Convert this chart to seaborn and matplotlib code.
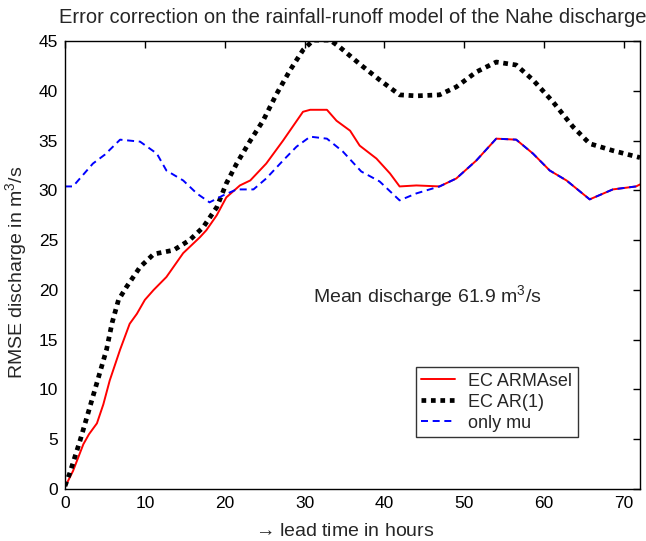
import matplotlib
matplotlib.use("Agg")
import matplotlib.pyplot as plt
import seaborn as sns
import pandas as pd

# ---- data ----
armasel_x = [0, 1, 2.3, 3, 4, 4.8, 5.6, 6.9, 8.1, 9.0, 10, 11.1, 12.7, 14.8, 16.9, 17.7, 19, 20.2,
             21.9, 23.2, 25.2, 27.3, 29.8, 30.7, 32.8, 34.0, 35.7, 36.9, 39.0, 40.7, 41.9, 44.0,
             46.9, 49.0, 51.5, 54.0, 56.5, 58.6, 60.7, 62.8, 65.7, 68.6, 71.5, 72]
armasel_y = [0.2, 1.8, 4.5, 5.5, 6.6, 8.5, 10.9, 14.0, 16.6, 17.6, 19.0, 20.0, 21.3, 23.7, 25.3, 26.0,
             27.5, 29.3, 30.5, 31.0, 32.7, 35.0, 37.9, 38.1, 38.1, 37.0, 36.0, 34.5, 33.2, 31.7,
             30.4, 30.5, 30.4, 31.2, 33.0, 35.2, 35.1, 33.7, 32.0, 31.0, 29.1, 30.1, 30.4, 30.6]

ar1_x = [0, 0.6, 1.9, 3.5, 5.2, 5.9, 6.7, 7.7, 9.4, 11.1, 13.6, 15.6, 17.3, 19.0, 20.2, 21.5, 23.2,
         24.8, 26.5, 28.2, 29.8, 31.1, 33.2, 34.4, 36.9, 39.4, 41.9, 44.0, 46.9, 49.0, 51.5, 54.0,
         56.5, 58.6, 61.1, 63.6, 65.7, 68.6, 71.5, 72]
ar1_y = [0.3, 1.6, 4.9, 9.3, 14.0, 16.7, 19.0, 20.3, 22.3, 23.6, 24.0, 25.0, 26.3, 28.3, 30.7, 32.7,
         35.0, 37.0, 39.7, 42.1, 44.1, 45.1, 45.1, 44.4, 42.7, 41.1, 39.6, 39.5, 39.6, 40.4, 41.9,
         42.9, 42.6, 41.1, 38.9, 36.4, 34.7, 34.0, 33.4, 33.3]

mu_x = [0, 1, 3.5, 5, 6.9, 9.4, 11.5, 12.7, 14.8, 16.5, 18.1, 19.8, 21.5, 23.6, 25.2, 27.3, 29.0,
        30.7, 32.8, 34.8, 37.1, 39.4, 41.9, 44.0, 46.9, 49.0, 51.5, 54.0, 56.5, 58.6, 60.7, 62.8,
        65.7, 68.6, 71.5, 72]
mu_y = [30.4, 30.4, 32.7, 33.6, 35.1, 34.9, 33.7, 32.0, 31.0, 29.7, 28.8, 29.5, 30.1, 30.1, 31.2,
        33.0, 34.4, 35.4, 35.2, 33.9, 31.9, 30.9, 29.0, 29.7, 30.4, 31.2, 33.0, 35.2, 35.1, 33.7,
        32.0, 31.0, 29.1, 30.1, 30.4, 30.5]

series_names = ["EC ARMAsel", "EC AR(1)", "only mu"]
x_ticks = [0, 10, 20, 30, 40, 50, 60, 70]
y_ticks = [0, 5, 10, 15, 20, 25, 30, 35, 40, 45]

sns.set_style("white")
plt.rcParams["font.family"] = ["Liberation Sans", "DejaVu Sans"]
plt.rcParams["mathtext.fontset"] = "custom"
plt.rcParams["mathtext.rm"] = "Liberation Sans"

fig = plt.figure(figsize=(6.46, 5.41), dpi=100)
ax = fig.add_axes([0.1006, 0.0961, 0.8901, 0.8279])

df_r = pd.DataFrame({"x": armasel_x, "y": armasel_y})
df_b = pd.DataFrame({"x": ar1_x, "y": ar1_y})
df_m = pd.DataFrame({"x": mu_x, "y": mu_y})

sns.lineplot(data=df_r, x="x", y="y", ax=ax, color="#ff0000", lw=1.4, label=series_names[0],
             estimator=None, sort=False)
sns.lineplot(data=df_b, x="x", y="y", ax=ax, color="black", lw=3.4, label=series_names[1],
             estimator=None, sort=False, linestyle=(0, (1.0, 1.0)), dash_capstyle="butt")
sns.lineplot(data=df_m, x="x", y="y", ax=ax, color="#0000ff", lw=1.4, label=series_names[2],
             estimator=None, sort=False, linestyle=(0, (3.6, 2.4)))

ax.set_xlim(0, 72)
ax.set_ylim(0, 45)
ax.set_xticks(x_ticks)
ax.set_yticks(y_ticks)
ax.tick_params(direction="in", length=5, width=1, top=True, right=True,
               labelsize=12.5, colors="black", pad=5)
for s in ax.spines.values():
    s.set_visible(True)
    s.set_color("black")
    s.set_linewidth(1.0)

ax.set_xlabel(r"$\rightarrow$lead time in hours", fontsize=14)
ax.xaxis.set_label_coords(0.4835, -0.075)
ax.set_ylabel(r"RMSE discharge in m$^3$/s", fontsize=14)
ax.yaxis.set_label_coords(-0.06, 0.485)
ax.set_title("Error correction on the rainfall-runoff model of the Nahe discharge",
             fontsize=14.5, pad=13)
ax.text(31.0, 19.3, r"Mean discharge 61.9 m$^3$/s", fontsize=14, va="center", ha="left")

leg = ax.legend(loc="upper left", bbox_to_anchor=(0.61, 0.272), frameon=True, fancybox=False,
                edgecolor="black", fontsize=13, handlelength=1.9, borderpad=0.3,
                labelspacing=0.22, handletextpad=0.7, borderaxespad=0)
leg.get_frame().set_linewidth(1.0)

fig.savefig("out.png", dpi=100)
